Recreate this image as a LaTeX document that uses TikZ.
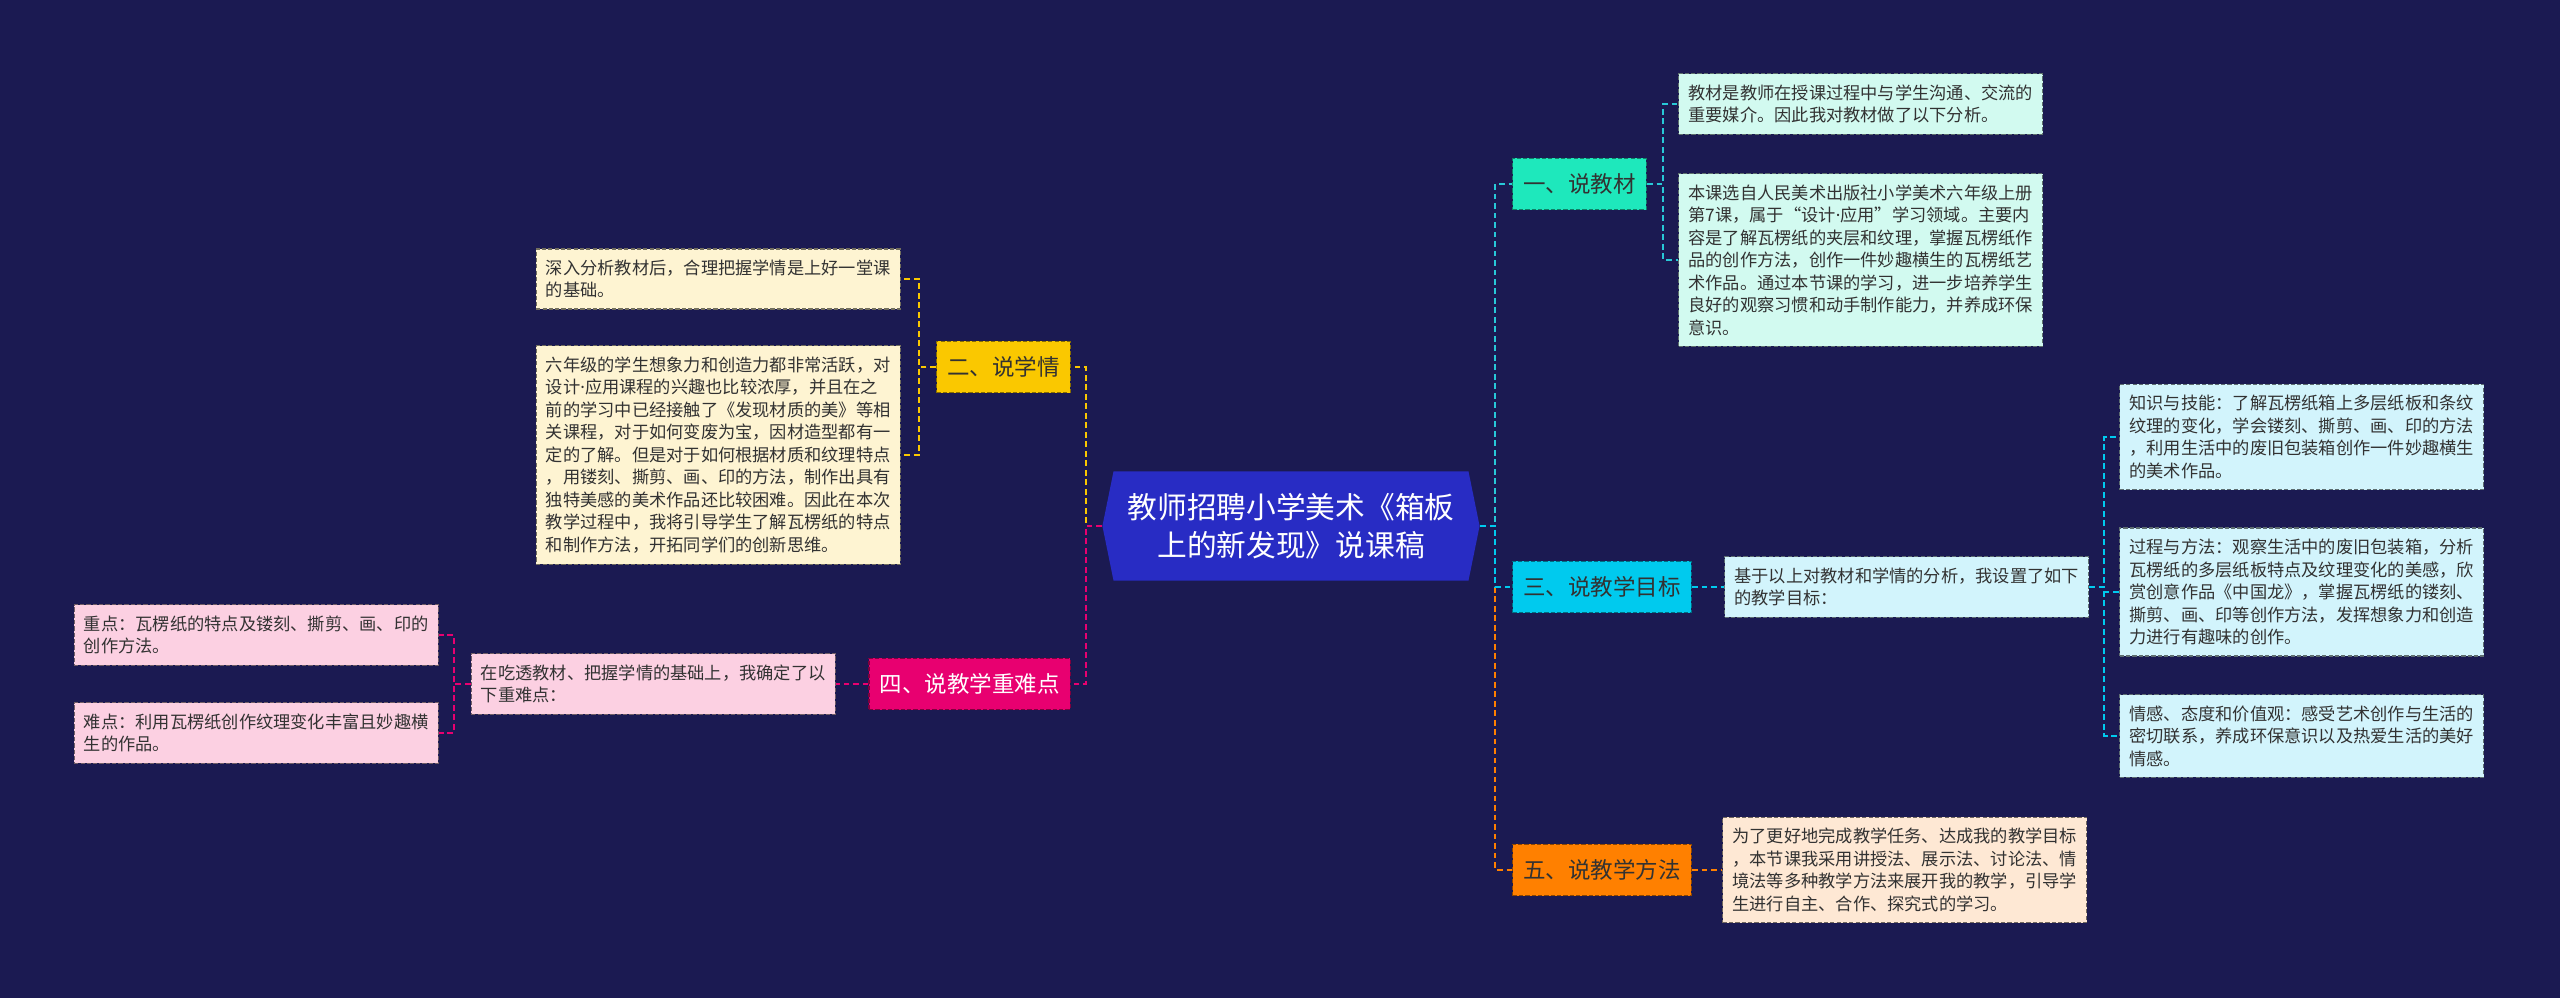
\documentclass[tikz,border=0pt]{standalone}
\usepackage{fontspec}
\setmainfont{Noto Sans CJK SC}
\newfontfamily\westfont{Noto Sans}
\usepackage{tikz}
\usetikzlibrary{shapes.symbols}
\definecolor{bgnavy}{RGB}{27,26,82}
\definecolor{rootblue}{RGB}{40,44,196}
\definecolor{mintbr}{RGB}{30,232,188}
\definecolor{cyanbr}{RGB}{0,202,238}
\definecolor{yellowbr}{RGB}{250,200,0}
\definecolor{pinkbr}{RGB}{232,0,112}
\definecolor{orangebr}{RGB}{255,128,0}
\definecolor{mintleaf}{RGB}{210,250,240}
\definecolor{cyanleaf}{RGB}{210,244,252}
\definecolor{yellowleaf}{RGB}{254,244,210}
\definecolor{pinkleaf}{RGB}{252,208,226}
\definecolor{orangeleaf}{RGB}{254,232,212}
\definecolor{darktext}{RGB}{50,50,50}
\definecolor{linkteal}{RGB}{40,200,215}
\newcommand{\middot}{{\westfont ·}}
\tikzset{
  topic/.style={
    fill=#1,
    draw=#1!55!black,
    dash pattern=on 1.2pt off 0.6pt,
    line width=0.4pt,
    inner xsep=3pt,
    minimum height=0.51cm,
    text=darktext,
    font=\fontsize{6.4pt}{7.6pt}\selectfont
  },
  note/.style={
    fill=#1,
    draw=#1!45!black,
    dash pattern=on 1.2pt off 0.6pt,
    line width=0.35pt,
    align=left,
    inner xsep=2.6pt,
    inner ysep=3.1pt,
    minimum width=3.64cm,
    text=darktext,
    font=\fontsize{4.9pt}{6.4pt}\selectfont
  },
  link/.style={draw=#1, dash pattern=on 1.6pt off 1.1pt, line width=0.55pt}
}

\begin{document}
\begin{tikzpicture}[x=0.01cm,y=-0.01cm]
  \fill[bgnavy] (0,0) rectangle (2560,998);
  \useasboundingbox (0,0) rectangle (2560,998);

  \node[signal,signal to=east and west,signal pointer angle=157,
    fill=rootblue,text=white,align=center,inner xsep=4pt,
    minimum height=1.09cm,font=\fontsize{8.45pt}{10.8pt}\selectfont]
    (root) at (1291,526) {教师招聘小学美术《箱板\\上的新发现》说课稿};

  % right side
  \node[topic=mintbr,anchor=west] (material) at (1512,184) {一、说教材};
  \node[note=mintleaf,anchor=west] (matintro) at (1678,104)
    {教材是教师在授课过程中与学生沟通、交流的\\重要媒介。因此我对教材做了以下分析。};
  \node[note=mintleaf,anchor=west] (matcontent) at (1678,260)
    {本课选自人民美术出版社小学美术六年级上册\\第7课，属于“设计\middot 应用”学习领域。主要内\\容是了解瓦楞纸的夹层和纹理，掌握瓦楞纸作\\品的创作方法，创作一件妙趣横生的瓦楞纸艺\\术作品。通过本节课的学习，进一步培养学生\\良好的观察习惯和动手制作能力，并养成环保\\意识。};

  \node[topic=cyanbr,anchor=west] (goal) at (1512,587) {三、说教学目标};
  \node[note=cyanleaf,anchor=west] (goalintro) at (1724,587)
    {基于以上对教材和学情的分析，我设置了如下\\的教学目标：};
  \node[note=cyanleaf,anchor=west] (goalskill) at (2119,437)
    {知识与技能：了解瓦楞纸箱上多层纸板和条纹\\纹理的变化，学会镂刻、撕剪、画、印的方法\\，利用生活中的废旧包装箱创作一件妙趣横生\\的美术作品。};
  \node[note=cyanleaf,anchor=west] (goalprocess) at (2119,592)
    {过程与方法：观察生活中的废旧包装箱，分析\\瓦楞纸的多层纸板特点及纹理变化的美感，欣\\赏创意作品《中国龙》，掌握瓦楞纸的镂刻、\\撕剪、画、印等创作方法，发挥想象力和创造\\力进行有趣味的创作。};
  \node[note=cyanleaf,anchor=west] (goalemotion) at (2119,736)
    {情感、态度和价值观：感受艺术创作与生活的\\密切联系，养成环保意识以及热爱生活的美好\\情感。};

  \node[topic=orangebr,anchor=west] (method) at (1512,870) {五、说教学方法};
  \node[note=orangeleaf,anchor=west] (methodtext) at (1722,870)
    {为了更好地完成教学任务、达成我的教学目标\\，本节课我采用讲授法、展示法、讨论法、情\\境法等多种教学方法来展开我的教学，引导学\\生进行自主、合作、探究式的学习。};

  % left side
  \node[topic=yellowbr,anchor=east] (learner) at (1071,367) {二、说学情};
  \node[note=yellowleaf,anchor=east] (learnbase) at (901,279)
    {深入分析教材后，合理把握学情是上好一堂课\\的基础。};
  \node[note=yellowleaf,anchor=east] (learnstate) at (901,455)
    {六年级的学生想象力和创造力都非常活跃，对\\设计\middot 应用课程的兴趣也比较浓厚，并且在之\\前的学习中已经接触了《发现材质的美》等相\\关课程，对于如何变废为宝，因材造型都有一\\定的了解。但是对于如何根据材质和纹理特点\\，用镂刻、撕剪、画、印的方法，制作出具有\\独特美感的美术作品还比较困难。因此在本次\\教学过程中，我将引导学生了解瓦楞纸的特点\\和制作方法，开拓同学们的创新思维。};

  \node[topic=pinkbr,text=white,anchor=east] (keypoint) at (1071,684) {四、说教学重难点};
  \node[note=pinkleaf,anchor=east] (keyintro) at (836,684)
    {在吃透教材、把握学情的基础上，我确定了以\\下重难点：};
  \node[note=pinkleaf,anchor=east] (keymain) at (439,635)
    {重点：瓦楞纸的特点及镂刻、撕剪、画、印的\\创作方法。};
  \node[note=pinkleaf,anchor=east] (keyhard) at (439,733)
    {难点：利用瓦楞纸创作纹理变化丰富且妙趣横\\生的作品。};

  \foreach \b/\c in {method/orangebr,material/linkteal,goal/cyanbr}
    \draw[link=\c] (root.east) -- ++(15,0) |- (\b.west);
  \foreach \b/\c in {learner/yellowbr,keypoint/pinkbr}
    \draw[link=\c] (root.west) -- ++(-16,0) |- (\b.east);
  \foreach \b in {matintro,matcontent}
    \draw[link=linkteal] (material.east) -- ++(16,0) |- (\b.west);
  \foreach \b in {goalskill,goalprocess,goalemotion}
    \draw[link=cyanbr] (goalintro.east) -- ++(15,0) |- (\b.west);
  \foreach \b in {learnbase,learnstate}
    \draw[link=yellowbr] (learner.west) -- ++(-17,0) |- (\b.east);
  \foreach \b in {keymain,keyhard}
    \draw[link=pinkbr] (keyintro.west) -- ++(-17,0) |- (\b.east);
  \draw[link=cyanbr] (goal) -- (goalintro);
  \draw[link=orangebr] (method) -- (methodtext);
  \draw[link=pinkbr] (keypoint) -- (keyintro);
\end{tikzpicture}
\end{document}
